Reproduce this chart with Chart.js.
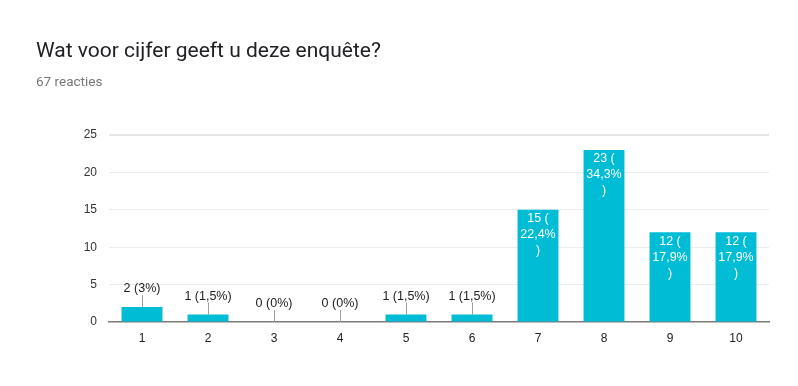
<!DOCTYPE html>
<html>
<head>
<meta charset="utf-8">
<script src="https://cdn.jsdelivr.net/npm/chart.js@4/dist/chart.umd.min.js"></script>
<style>
  html, body { margin: 0; padding: 0; background: #fff; }
  #wrap { position: relative; width: 798px; height: 386px; overflow: hidden; }
  #title { position: absolute; left: 36px; top: 40px; font: 21px/21px Roboto, sans-serif; color: #202124; white-space: nowrap; }
  #sub { position: absolute; left: 36px; top: 74px; font: 13.5px/14px Roboto, sans-serif; color: #777; white-space: nowrap; }
  canvas { position: absolute; left: 0; top: 0; }
</style>
</head>
<body>
<div id="wrap">
  <canvas id="chart" width="798" height="386"></canvas>
  <div id="title">Wat voor cijfer geeft u deze enquête?</div>
  <div id="sub">67 reacties</div>
</div>
<script>
"use strict";

// gegevens
const categories = ["1", "2", "3", "4", "5", "6", "7", "8", "9", "10"];
const counts = [2, 1, 0, 0, 1, 1, 15, 23, 12, 12];
const yTicks = [0, 5, 10, 15, 20, 25];
const total = counts.reduce((a, b) => a + b, 0);

// percentage zoals "1,5%"
function pct(v) {
  let s = (v / total * 100).toFixed(1);
  if (s.endsWith(".0")) s = s.slice(0, -2);
  return s.replace(".", ",") + "%";
}

// labels boven of in de staven
const barLabels = {
  id: "barLabels",
  afterDatasetsDraw(chart) {
    const ctx = chart.ctx;
    const meta = chart.getDatasetMeta(0);
    ctx.save();
    ctx.font = "12.5px 'Liberation Sans', Arial, sans-serif";
    ctx.textAlign = "center";
    ctx.textBaseline = "middle";
    meta.data.forEach((bar, i) => {
      const v = counts[i];
      const h = bar.base - bar.y;
      if (h >= 48) {
        // binnen de staaf, over drie regels
        const lines = [v + " (", pct(v), ")"];
        ctx.fillStyle = "#fff";
        lines.forEach((t, k) => ctx.fillText(t, bar.x, bar.y + 9 + k * 16));
      } else {
        // erboven met een lijntje
        ctx.strokeStyle = "#9e9e9e";
        ctx.lineWidth = 1;
        ctx.beginPath();
        ctx.moveTo(Math.round(bar.x) + 0.5, bar.y);
        ctx.lineTo(Math.round(bar.x) + 0.5, bar.y - 12);
        ctx.stroke();
        ctx.fillStyle = "#222";
        ctx.fillText(v + " (" + pct(v) + ")", bar.x, bar.y - 18);
      }
    });
    ctx.restore();
  },
};

new Chart(document.getElementById("chart"), {
  type: "bar",
  data: {
    labels: categories,
    datasets: [
      {
        data: counts,
        backgroundColor: "#00bcd4",
        borderWidth: 0,
        categoryPercentage: 1,
        barPercentage: 0.62,
      },
    ],
  },
  plugins: [barLabels],
  options: {
    responsive: false,
    animation: false,
    layout: { padding: { top: 135, right: 29, bottom: 0, left: 0 } },
    plugins: {
      legend: { display: false },
      tooltip: { enabled: false },
    },
    scales: {
      x: {
        grid: { display: false, drawTicks: false },
        border: { display: true, color: "#7a7a7a", width: 1.5 },
        ticks: {
          padding: 9,
          color: "#222",
          font: { family: "'Liberation Sans', Arial, sans-serif", size: 12 },
        },
        afterFit: (s) => { s.height = 64; },
      },
      y: {
        min: 0,
        max: 25,
        afterBuildTicks: (s) => { s.ticks = yTicks.map((v) => ({ value: v })); },
        grid: {
          drawTicks: false,
          color: (c) => (c.tick.value === 0 ? "rgba(0,0,0,0)" : c.tick.value === 25 ? "#e6e6e6" : "#ececec"),
          lineWidth: (c) => (c.tick.value === 25 ? 2 : 1),
        },
        border: { display: false },
        ticks: {
          padding: 12,
          color: "#333",
          font: { family: "'Liberation Sans', Arial, sans-serif", size: 12 },
        },
        afterFit: (s) => { s.width = 109; },
      },
    },
  },
});
</script>
</body>
</html>
